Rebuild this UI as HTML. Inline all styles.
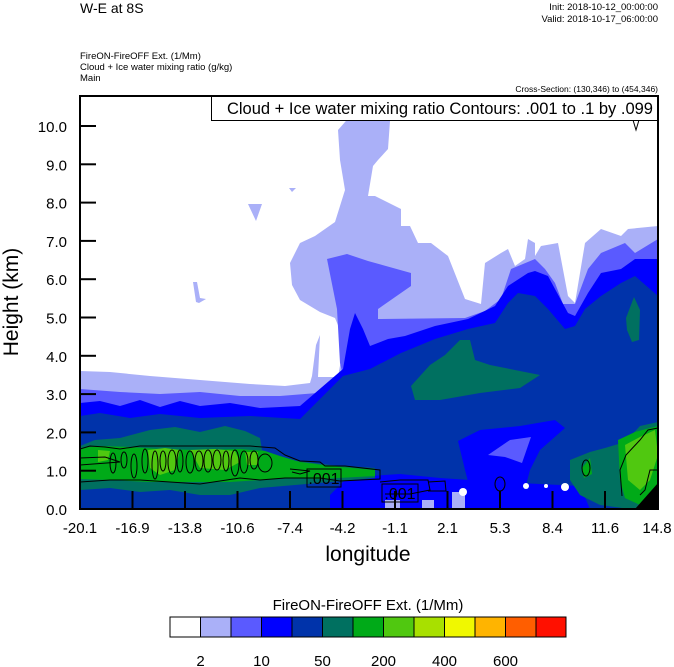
<!DOCTYPE html>
<html><head><meta charset="utf-8"><style>
html,body{margin:0;padding:0;background:#fff;}
svg{display:block;font-family:"Liberation Sans",sans-serif;}
</style></head><body>
<svg width="674" height="667" viewBox="0 0 674 667" xmlns="http://www.w3.org/2000/svg">
<rect width="674" height="667" fill="#fff"/>
<text x="80" y="13" font-size="14">W-E at 8S</text>
<text x="658" y="10" font-size="9.5" text-anchor="end">Init: 2018-10-12_00:00:00</text>
<text x="658" y="22" font-size="9.5" text-anchor="end">Valid: 2018-10-17_06:00:00</text>
<text x="80" y="59" font-size="9.5">FireON-FireOFF Ext.   (1/Mm)</text>
<text x="80" y="70" font-size="9.5">Cloud + Ice water mixing ratio   (g/kg)</text>
<text x="80" y="81" font-size="9.5">Main</text>
<text x="658" y="92" font-size="8.5" text-anchor="end">Cross-Section: (130,346) to (454,346)</text>
<defs><clipPath id="c"><rect x="80" y="96" width="578" height="413"/></clipPath></defs>
<g clip-path="url(#c)">
<!-- L1 lavender -->
<path fill="#aab0f8" d="M80,371 L110,372 L150,376 L200,380 L250,384 L285,386 L310,383 L312,376 L316,345 L320,335 L318,377 L338,377 L341,360 L340,330 L335,318 L320,312 L300,300 L292,285 L290,263 L300,243 L315,236 L335,222 L345,190 L340,160 L338,130 L345,122 L355,110 L375,96 L390,96 L390,121 L388,149 L378,160 L373,166 L368,196 L375,196 L401,209 L401,226 L410,226 L418,243 L431,243 L448,256 L465,299 L481,304 L485,263 L501,253 L508,249 L515,266 L525,259 L528,239 L535,243 L535,256 L541,246 L558,243 L568,296 L575,303 L585,243 L601,229 L621,236 L628,229 L658,226 L658,509 L80,509Z"/>
<path fill="#aab0f8" d="M248,204 L262,204 L256,221Z M193,282 L197,282 L200,298 L206,299 L199,303 L196,302Z M289,188 L296,188 L292,192Z"/>
<path fill="none" stroke="#000" stroke-width="1" d="M633,120 L636,130 L639,120"/>
<!-- L2 medium -->
<path fill="#5a5aff" d="M80,389 L120,392 L160,394 L200,392 L240,396 L280,396 L330,392 L343,376 L340,363 L337,309 L327,259 L347,254 L368,261 L411,273 L411,286 L378,309 L378,319 L465,318 L485,311 L501,299 L511,269 L535,259 L545,269 L555,283 L563,304 L575,304 L588,269 L601,253 L625,243 L635,253 L658,239 L658,509 L80,509Z"/>
<!-- L3 blue -->
<path fill="#0000ff" d="M80,403 L100,401 L120,406 L140,400 L160,407 L180,401 L200,406 L230,403 L260,408 L300,406 L343,369 L350,329 L355,313 L363,329 L370,346 L388,339 L405,336 L435,326 L468,319 L495,306 L508,286 L528,273 L535,271 L548,276 L555,289 L568,313 L575,316 L588,293 L601,273 L621,269 L635,259 L658,259 L658,509 L80,509Z"/>
<!-- L4 dark blue -->
<path fill="#0033aa" d="M80,416 L100,413 L130,418 L160,414 L200,418 L250,416 L300,419 L343,376 L370,369 L401,353 L435,339 L468,329 L495,323 L508,303 L518,293 L535,296 L548,309 L565,329 L575,326 L585,309 L601,296 L621,283 L635,276 L658,296 L658,509 L80,509Z"/>
<!-- lower blue blobs -->
<path fill="#0000ff" d="M458,441 L480,430 L520,426 L555,420 L565,428 L540,450 L530,470 L525,489 L470,489 L465,470Z"/>
<path fill="#5a5aff" d="M488,455 L510,440 L531,437 L522,463 L505,457Z"/>
<path fill="#0000ff" d="M330,495 L345,480 L370,476 L400,474 L440,478 L470,480 L520,483 L580,486 L590,509 L330,509Z"/>
<path fill="#aab0f8" d="M422,500 L434,500 L434,509 L422,509Z M452,492 L465,492 L465,509 L452,509Z M385,500 L400,500 L400,509 L385,509Z"/>
<circle cx="463" cy="492" r="4" fill="#fff"/>
<circle cx="526" cy="486" r="3" fill="#fff"/><circle cx="565" cy="487" r="4" fill="#fff"/><circle cx="546" cy="486" r="2" fill="#fff"/>
<!-- teal regions -->
<path fill="#007060" d="M80,446 L95,440 L120,438 L150,430 L175,427 L200,432 L225,426 L245,431 L260,438 L262,450 L290,460 L330,465 L375,468 L375,478 L330,482 L260,488 L230,495 L200,495 L170,490 L140,492 L110,488 L80,490Z"/>
<path fill="#007060" d="M411,386 L430,365 L445,355 L460,340 L470,340 L475,360 L490,365 L540,375 L520,388 L480,393 L440,400 L415,400Z"/>
<path fill="#007060" d="M626,318 L634,297 L640,310 L639,340 L632,342 L627,330Z"/>
<path fill="#007060" d="M570,460 L590,452 L605,448 L625,442 L640,426 L658,422 L658,509 L630,509 L600,505 L580,495 L570,480Z"/>
<!-- green -->
<path fill="#00aa18" d="M80,448 L100,446 L130,447 L160,449 L200,450 L240,449 L265,451 L280,456 L300,462 L330,466 L375,470 L375,476 L320,479 L290,478 L260,480 L230,482 L190,482 L150,482 L110,480 L80,479Z"/>
<path fill="#00aa18" d="M582,468 L590,458 L592,474 L584,478Z M618,440 L635,432 L650,428 L658,426 L658,495 L640,505 L625,498 L620,480Z"/>
<path fill="#50c810" d="M148,450 L165,448 L180,450 L175,470 L160,475 L150,468Z M190,450 L215,449 L235,451 L240,462 L225,470 L200,468Z M98,450 L110,451 L108,460 L98,462Z M625,445 L640,437 L655,430 L658,455 L650,480 L640,490 L628,480Z M245,452 L258,452 L258,465 L247,465Z"/>
<!-- contours -->
<g fill="none" stroke="#000" stroke-width="1">
<path d="M80,449 L90,446 L105,447 L120,449 L140,446 L170,446 L200,446 L250,446 L275,448 L285,455 L300,461 L320,462 L325,466 L345,466 L380,470 L380,479 L340,481 L320,478 L285,478 L260,480 L240,478 L200,484 L170,482 L140,480 L110,480 L80,482"/>
<path d="M80,458 L105,457 L120,462 L80,465"/>
<ellipse cx="113" cy="463" rx="3" ry="10"/><ellipse cx="124" cy="460" rx="3" ry="8"/><ellipse cx="134" cy="466" rx="3" ry="12"/>
<ellipse cx="145" cy="461" rx="3" ry="12"/><ellipse cx="155" cy="465" rx="3" ry="14"/><ellipse cx="163" cy="461" rx="3" ry="10"/>
<ellipse cx="172" cy="462" rx="4" ry="12"/><ellipse cx="180" cy="461" rx="3" ry="11"/><ellipse cx="190" cy="462" rx="4" ry="11"/>
<ellipse cx="199" cy="461" rx="4" ry="10"/><ellipse cx="208" cy="461" rx="4" ry="11"/><ellipse cx="217" cy="460" rx="4" ry="10"/>
<ellipse cx="226" cy="461" rx="3" ry="10"/><ellipse cx="235" cy="463" rx="4" ry="13"/><ellipse cx="244" cy="462" rx="4" ry="11"/>
<ellipse cx="254" cy="460" rx="4" ry="9"/><ellipse cx="265" cy="463" rx="7" ry="9"/>
<path d="M290,469 L310,471 L300,474 L292,472"/>
<path d="M380,482 L400,480 L428,480 L430,490 L410,494 L385,494"/>
<path d="M428,482 L445,481 L446,491 L428,491"/>
<ellipse cx="500" cy="484" rx="5" ry="7"/><ellipse cx="586" cy="468" rx="4" ry="8"/>
<path d="M622,496 L620,470 L626,455 L640,440 L648,430 L658,428 M658,470 L650,470 L645,490 L640,495"/>
</g>
<rect x="307" y="469" width="34" height="18" fill="none" stroke="#000"/>
<text x="324" y="484" font-size="16" text-anchor="middle">.001</text>
<rect x="382" y="484" width="36" height="18" fill="none" stroke="#000"/>
<text x="400" y="499" font-size="16" text-anchor="middle">.001</text>
<path d="M635,509 L658,483 L658,509Z" fill="#000"/>
</g>
<!-- legend box -->
<rect x="211.5" y="96.5" width="446" height="24" fill="#fff" stroke="#000"/>
<text x="653" y="114" font-size="16.5" text-anchor="end">Cloud + Ice water mixing ratio Contours: .001 to .1 by .099</text>
<!-- frame -->
<rect x="80" y="96" width="578" height="413" fill="none" stroke="#000" stroke-width="2"/>
<g stroke="#000" stroke-width="2">
<line x1="80" y1="509" x2="96" y2="509"/><line x1="80" y1="470.7" x2="96" y2="470.7"/><line x1="80" y1="432.4" x2="96" y2="432.4"/>
<line x1="80" y1="394.1" x2="96" y2="394.1"/><line x1="80" y1="355.8" x2="96" y2="355.8"/><line x1="80" y1="317.5" x2="96" y2="317.5"/>
<line x1="80" y1="279.2" x2="96" y2="279.2"/><line x1="80" y1="240.9" x2="96" y2="240.9"/><line x1="80" y1="202.6" x2="96" y2="202.6"/>
<line x1="80" y1="164.3" x2="96" y2="164.3"/><line x1="80" y1="126" x2="96" y2="126"/>
<line x1="132.5" y1="509" x2="132.5" y2="491"/><line x1="185" y1="509" x2="185" y2="491"/><line x1="237.5" y1="509" x2="237.5" y2="491"/>
<line x1="290" y1="509" x2="290" y2="491"/><line x1="342.5" y1="509" x2="342.5" y2="491"/><line x1="395" y1="509" x2="395" y2="491"/>
<line x1="447.5" y1="509" x2="447.5" y2="491"/><line x1="500" y1="509" x2="500" y2="491"/><line x1="552.5" y1="509" x2="552.5" y2="491"/>
<line x1="605" y1="509" x2="605" y2="491"/>
</g>
<g font-size="15" text-anchor="end">
<text x="67" y="515">0.0</text><text x="67" y="476.7">1.0</text><text x="67" y="438.4">2.0</text><text x="67" y="400.1">3.0</text>
<text x="67" y="361.8">4.0</text><text x="67" y="323.5">5.0</text><text x="67" y="285.2">6.0</text><text x="67" y="246.9">7.0</text>
<text x="67" y="208.6">8.0</text><text x="67" y="170.3">9.0</text><text x="67" y="132">10.0</text>
</g>
<g font-size="15" text-anchor="middle">
<text x="80" y="533">-20.1</text><text x="132.5" y="533">-16.9</text><text x="185" y="533">-13.8</text><text x="237.5" y="533">-10.6</text>
<text x="290" y="533">-7.4</text><text x="342.5" y="533">-4.2</text><text x="395" y="533">-1.1</text><text x="447.5" y="533">2.1</text>
<text x="500" y="533">5.3</text><text x="552.5" y="533">8.4</text><text x="605" y="533">11.6</text><text x="657" y="533">14.8</text>
</g>
<text x="368" y="561" font-size="21" text-anchor="middle">longitude</text>
<text transform="translate(18,302) rotate(-90)" font-size="21" text-anchor="middle">Height (km)</text>
<!-- colorbar -->
<text x="368" y="610" font-size="15" text-anchor="middle">FireON-FireOFF Ext.  (1/Mm)</text>
<g stroke="#000" stroke-width="1">
<rect x="170" y="617" width="30.5" height="20" fill="#ffffff"/>
<rect x="200.5" y="617" width="30.5" height="20" fill="#aab0f8"/>
<rect x="231" y="617" width="30.5" height="20" fill="#5a5aff"/>
<rect x="261.5" y="617" width="30.5" height="20" fill="#0000ff"/>
<rect x="292" y="617" width="30.5" height="20" fill="#0033aa"/>
<rect x="322.5" y="617" width="30.5" height="20" fill="#007060"/>
<rect x="353" y="617" width="30.5" height="20" fill="#00aa18"/>
<rect x="383.5" y="617" width="30.5" height="20" fill="#50c810"/>
<rect x="414" y="617" width="30.5" height="20" fill="#a8e000"/>
<rect x="444.5" y="617" width="30.5" height="20" fill="#f0f800"/>
<rect x="475" y="617" width="30.5" height="20" fill="#ffb400"/>
<rect x="505.5" y="617" width="30.5" height="20" fill="#ff5e00"/>
<rect x="536" y="617" width="30" height="20" fill="#ff1000"/>
</g>
<g font-size="15" text-anchor="middle">
<text x="200.5" y="666">2</text><text x="261.5" y="666">10</text><text x="322.5" y="666">50</text>
<text x="383.5" y="666">200</text><text x="444.5" y="666">400</text><text x="505.5" y="666">600</text>
</g>
</svg>
</body></html>
